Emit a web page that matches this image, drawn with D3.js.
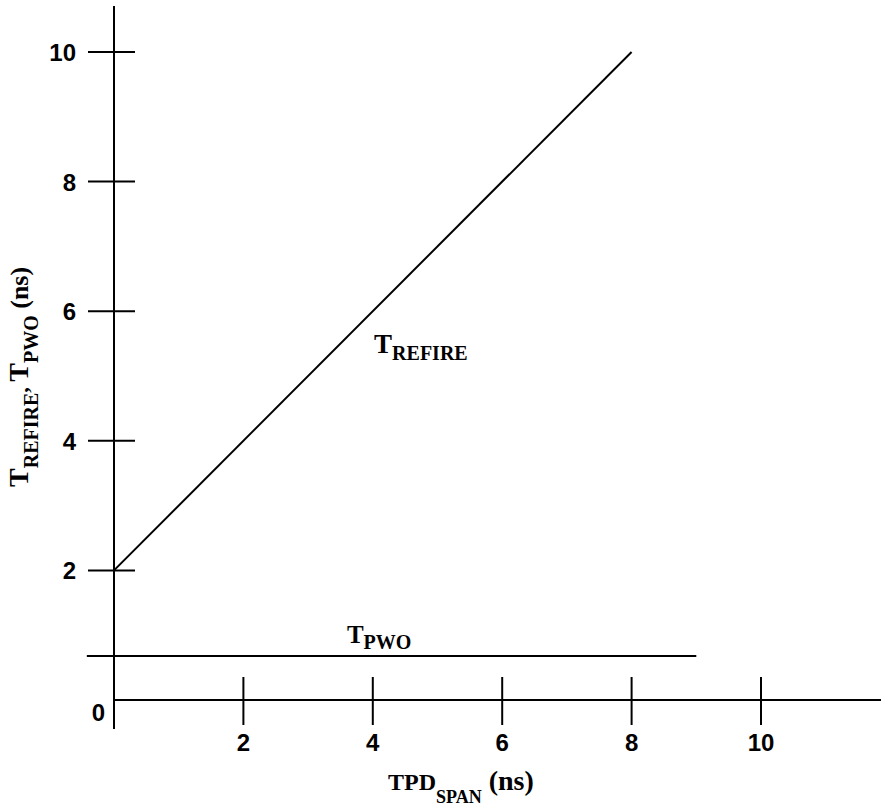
<!DOCTYPE html>
<html>
<head>
<meta charset="utf-8">
<script src="https://cdn.jsdelivr.net/npm/d3@7"></script>
<style>
  body { margin: 0; background: #fff; }
  .tick-label { font-family: "Liberation Sans", Arial, sans-serif; font-weight: bold; font-size: 24px; }
  .serif { font-family: "Liberation Serif", "Times New Roman", serif; font-weight: bold; }
</style>
</head>
<body>
<svg id="chart" width="881" height="809"></svg>
<script>
// chart values
const xTicks = [2, 4, 6, 8, 10];
const yTicks = [2, 4, 6, 8, 10];
const refireX = [0, 8];
const refireY = [2, 10];
const pwoX = [-0.42, 9];
const pwoY = [0.68, 0.68];

const svg = d3.select('#chart');

// scales: origin at (114, 700), 10 units ~ 647 px
const x = d3.scaleLinear().domain([0, 10]).range([114, 761]);
const y = d3.scaleLinear().domain([0, 10]).range([700, 52]);

const black = '#000';

// axis lines
svg.append('line')
  .attr('x1', x(0)).attr('y1', 6)
  .attr('x2', x(0)).attr('y2', 729)
  .attr('stroke', black).attr('stroke-width', 2);

svg.append('line')
  .attr('x1', x(0)).attr('y1', y(0))
  .attr('x2', 881).attr('y2', y(0))
  .attr('stroke', black).attr('stroke-width', 2);

// y ticks cross the axis
svg.selectAll('.ytick')
  .data(yTicks)
  .enter()
  .append('line')
  .attr('class', 'ytick')
  .attr('x1', x(0) - 26).attr('x2', x(0) + 21)
  .attr('y1', (d) => y(d)).attr('y2', (d) => y(d))
  .attr('stroke', black).attr('stroke-width', 2);

svg.selectAll('.ylab')
  .data(yTicks)
  .enter()
  .append('text')
  .attr('class', 'tick-label')
  .attr('x', 76)
  .attr('y', (d) => y(d) + 9)
  .attr('text-anchor', 'end')
  .text((d) => d);

// x ticks
svg.selectAll('.xtick')
  .data(xTicks)
  .enter()
  .append('line')
  .attr('class', 'xtick')
  .attr('x1', (d) => x(d)).attr('x2', (d) => x(d))
  .attr('y1', y(0) - 23).attr('y2', y(0) + 25)
  .attr('stroke', black).attr('stroke-width', 2);

svg.selectAll('.xlab')
  .data(xTicks)
  .enter()
  .append('text')
  .attr('class', 'tick-label')
  .attr('x', (d) => x(d))
  .attr('y', y(0) + 51)
  .attr('text-anchor', 'middle')
  .text((d) => d);

// shared zero label
svg.append('text')
  .attr('class', 'tick-label')
  .attr('x', 105)
  .attr('y', y(0) + 21)
  .attr('text-anchor', 'end')
  .text('0');

// data lines
const line = d3.line()
  .x((d) => x(d[0]))
  .y((d) => y(d[1]));

svg.append('path')
  .datum(d3.zip(refireX, refireY))
  .attr('d', line)
  .attr('fill', 'none')
  .attr('stroke', black)
  .attr('stroke-width', 2);

svg.append('path')
  .datum(d3.zip(pwoX, pwoY))
  .attr('d', line)
  .attr('fill', 'none')
  .attr('stroke', black)
  .attr('stroke-width', 2);

// label helper: big letter followed by a lowered subscript
function subLabel(g, parts) {
  const t = g.append('text').attr('class', 'serif');
  parts.forEach((p) => {
    t.append('tspan')
      .attr('font-size', p.size)
      .attr('dy', p.dy || 0)
      .text(p.text);
  });
  return t;
}

// T_REFIRE
subLabel(svg.append('g').attr('transform', `translate(${x(4.02)},${y(5.36)})`), [
  { text: 'T', size: 27 },
  { text: 'REFIRE', size: 20, dy: 7 },
]);

// T_PWO
subLabel(svg.append('g').attr('transform', `translate(${x(3.6)},${y(0.88)})`), [
  { text: 'T', size: 25 },
  { text: 'PWO', size: 20, dy: 6 },
]);

// x axis title
subLabel(svg.append('g').attr('transform', `translate(388,790)`), [
  { text: 'TPD', size: 24 },
  { text: 'SPAN', size: 18, dy: 13 },
  { text: ' (ns)', size: 28, dy: -13 },
]);

// y axis title, rotated
subLabel(svg.append('g').attr('transform', 'translate(28,487) rotate(-90)'), [
  { text: 'T', size: 28 },
  { text: 'REFIRE', size: 20, dy: 10 },
  { text: ', ', size: 22, dy: -10 },
  { text: 'T', size: 28 },
  { text: 'PWO', size: 20, dy: 10 },
  { text: ' (ns)', size: 26, dy: -10 },
]);
</script>
</body>
</html>
